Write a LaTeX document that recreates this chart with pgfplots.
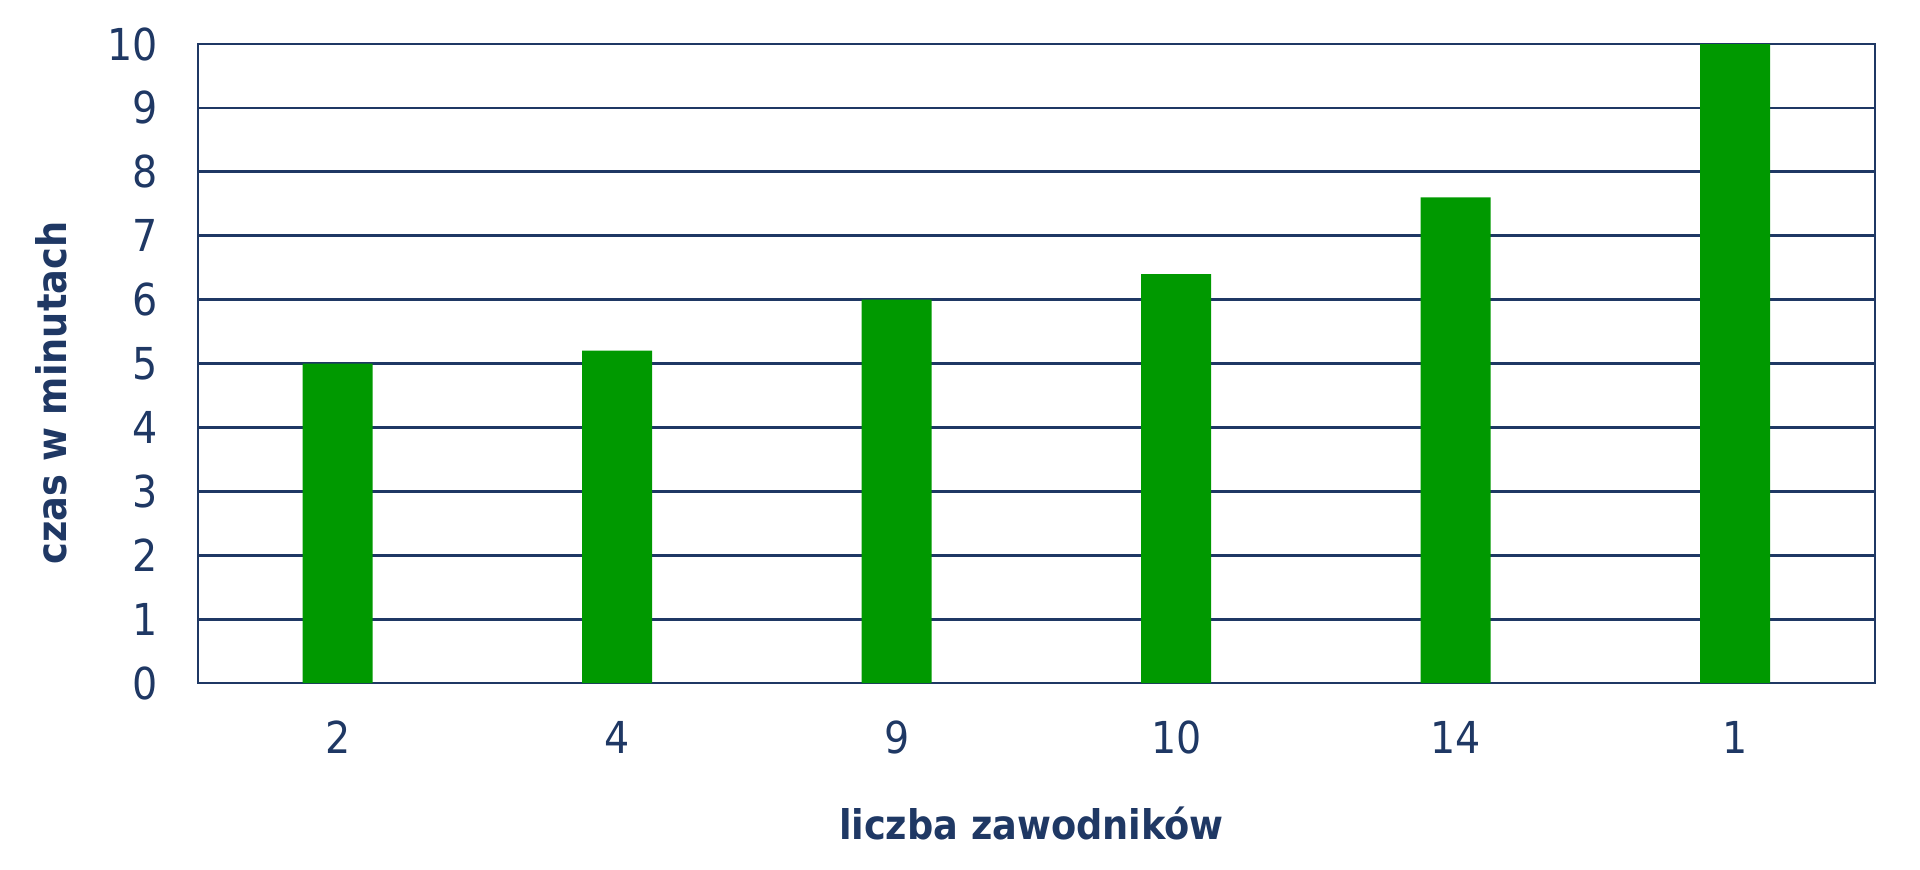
\documentclass[border=0pt]{standalone}
\usepackage{fontspec}
\setmainfont{DejaVu Sans Condensed}
\usepackage{pgfplots}
\pgfplotsset{compat=1.18}
\definecolor{navy}{RGB}{31,56,100}
\definecolor{bargreen}{RGB}{0,153,0}
\begin{document}
\begin{tikzpicture}
\useasboundingbox (-49.5pt,-46.5pt) rectangle (430.5pt,170.75pt);
\begin{axis}[
  at={(0,0)}, anchor=south west,
  scale only axis, width=419.25pt, height=159.75pt,
  xmin=-0.5, xmax=5.5, ymin=0, ymax=10,
  xtick={0,1,2,3,4,5}, xticklabels={2,4,9,10,14,1},
  ytick={0,1,...,10},
  ymajorgrids, grid style={navy, line width=0.7pt},
  axis line style={navy, line width=0.7pt},
  major tick length=0pt,
  tick label style={navy, font=\fontsize{11}{12}\selectfont},
  /pgf/number format/assume math mode=true,
  yticklabel style={xshift=-6.5pt},
  xticklabel style={yshift=-6pt},
  xlabel={liczba zawodników},
  ylabel={czas w minutach},
  label style={navy, font=\bfseries\fontsize{10.2}{12}\selectfont},
  xlabel style={at={(axis description cs:0.497,0)}, yshift=-35pt, anchor=center},
  ylabel style={at={(axis description cs:-0.0877,0.454)}, anchor=center},
]
\addplot[ybar, bar width=17.5pt, fill=bargreen, draw=none] coordinates {
  (0,5) (1,5.2) (2,6) (3,6.4) (4,7.6) (5,10)
};
\end{axis}
\end{tikzpicture}
\end{document}
